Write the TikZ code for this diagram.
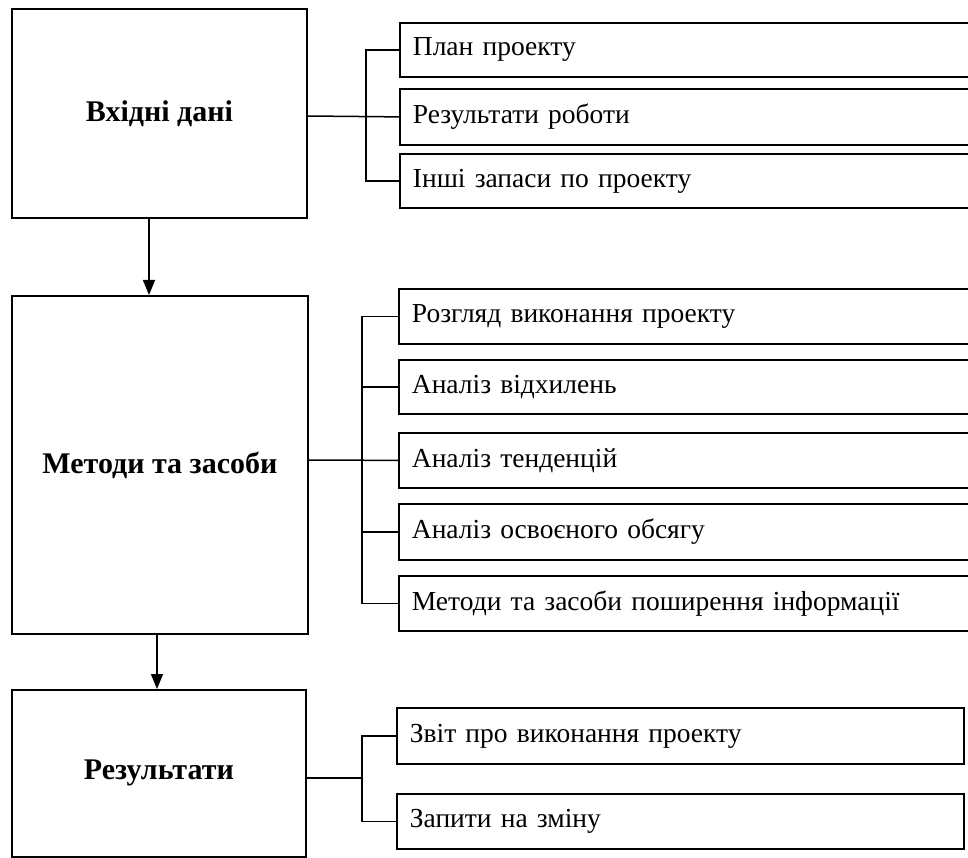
\documentclass[tikz,border=0pt]{standalone}
\usepackage{fontspec}
\setmainfont{Liberation Serif}
\usetikzlibrary{arrows.meta}
\begin{document}
\begin{tikzpicture}[x=1pt,y=-1pt,
  every node/.style={font=\fontsize{27.5}{32}\selectfont},
  mainbox/.style={draw, line width=1.8pt, anchor=north west, inner sep=0pt, font=\fontsize{30}{35}\selectfont\bfseries},
  itembox/.style={draw, line width=1.8pt, anchor=north west, inner xsep=13pt, inner ysep=0pt, align=left},
  link/.style={line width=1.5pt},
  arr/.style={line width=1.5pt, -{Triangle[length=15pt,width=12pt]}}]
\useasboundingbox (0,0) rectangle (968,858);
% left boxes
\node[mainbox, minimum width=295pt, minimum height=209pt] (A) at (11,8) {Вхідні дані};
\node[mainbox, minimum width=296pt, minimum height=338pt] (B) at (11,295) {Методи та засоби};
\node[mainbox, minimum width=294pt, minimum height=167pt] (C) at (11,689) {Результати};
% top group
\node[itembox, text width=551pt, minimum height=54pt] (R1) at (399,22) {План проекту};
\node[itembox, text width=551pt, minimum height=56pt] (R2) at (399,88) {Результати роботи};
\node[itembox, text width=551pt, minimum height=54pt] (R3) at (399,153) {Інші запаси по проекту};
% middle group
\node[itembox, text width=551pt, minimum height=55pt] (M1) at (398,288) {Розгляд виконання проекту};
\node[itembox, text width=551pt, minimum height=54pt] (M2) at (398,359) {Аналіз відхилень};
\node[itembox, text width=551pt, minimum height=55pt] (M3) at (398,432) {Аналіз тенденцій};
\node[itembox, text width=551pt, minimum height=56pt] (M4) at (398,503) {Аналіз освоєного обсягу};
\node[itembox, text width=551pt, minimum height=55pt] (M5) at (398,575) {Методи та засоби поширення інформації};
% bottom group
\node[itembox, text width=541pt, minimum height=56pt] (B1) at (396,707) {Звіт про виконання проекту};
\node[itembox, text width=541pt, minimum height=55pt] (B2) at (396,793) {Запити на зміну};
% junctions
\coordinate (jT) at (366,116);
\coordinate (jM) at (362,460);
\coordinate (jB) at (362,778);
% connectors
\draw[link] (A.east |- jT) -- (R2.west);
\draw[link] (R1.west) -| (jT) |- (R3.west);
\draw[link] (B.east |- jM) -- (M3.west);
\draw[link] (M1.west) -| (jM) |- (M5.west);
\draw[link] (jM |- M2.west) -- (M2.west);
\draw[link] (jM |- M4.west) -- (M4.west);
\draw[link] (C.east |- jB) -- (jB);
\draw[link] (B1.west) -| (jB) |- (B2.west);
% arrows
\draw[arr] (A.south -| 149,0) -- (B.north -| 149,0);
\draw[arr] (B.south -| 157,0) -- (C.north -| 157,0);
\end{tikzpicture}
\end{document}
